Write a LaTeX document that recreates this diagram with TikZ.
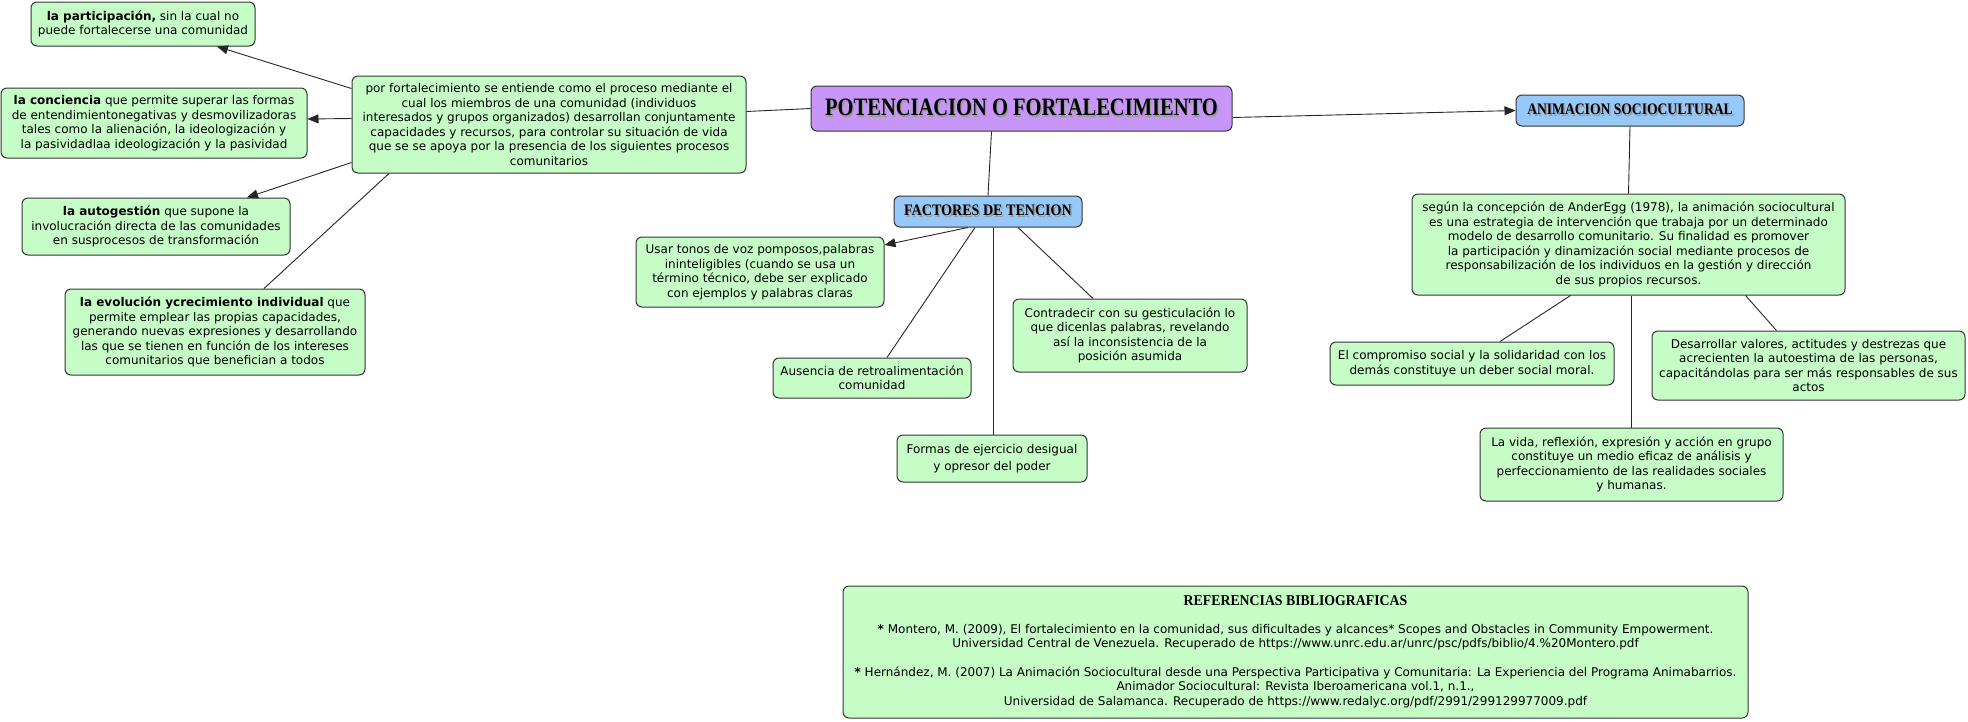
\documentclass[tikz,border=0pt]{standalone}
\usepackage{fontspec}
\setmainfont{DejaVu Sans}
\newfontfamily\titfont{Liberation Serif}
\usetikzlibrary{arrows.meta}
\definecolor{verde}{RGB}{198,252,198}
\definecolor{lila}{RGB}{200,150,248}
\definecolor{celeste}{RGB}{150,200,250}
\newcommand\sombra[1]{\makebox[0pt][l]{\kern1.5pt\raisebox{-1.5pt}{\color{black!40}#1}}#1}

\begin{document}
\begin{tikzpicture}[x=1pt,y=-1pt,
   concepto/.style={draw=black!80,line width=1pt,fill=verde,rounded corners=6pt,align=center,inner sep=2pt,
      font=\fontsize{12}{14.5}\selectfont},
   titulo/.style={draw=black!80,line width=1pt,fill=lila,rounded corners=6pt,inner sep=2pt},
   encabezado/.style={draw=black!80,line width=1pt,fill=celeste,rounded corners=6pt,inner sep=2pt},
   pfeil/.style={-{Triangle[length=11pt,width=9pt]}},
   linea/.style={draw=black!85,line width=0.9pt}]
   \useasboundingbox (0,0) rectangle (1968,721);
   % centro
   \node[titulo,minimum width=421pt,minimum height=45pt] (potenc) at (1021.5,108.5)
      {\titfont\bfseries\fontsize{25}{25}\selectfont\scalebox{0.82}[1]{\sombra{POTENCIACION O FORTALECIMIENTO}}};
   \node[encabezado,minimum width=228pt,minimum height=31pt] (anim) at (1630,110.5)
      {\titfont\bfseries\fontsize{16}{16}\selectfont\scalebox{0.85}[1]{\sombra{ANIMACION SOCIOCULTURAL}}};
   \node[encabezado,minimum width=188pt,minimum height=31pt] (factores) at (988,211.5)
      {\titfont\bfseries\fontsize{16}{16}\selectfont\scalebox{0.88}[1]{\sombra{FACTORES DE TENCION}}};
   % fortalecimiento
   \node[concepto,minimum width=394pt,minimum height=97pt] (fort) at (549,124.5)
      {por fortalecimiento se entiende como el proceso mediante el\\cual los miembros de una comunidad (individuos\\interesados y grupos organizados) desarrollan conjuntamente\\capacidades y recursos, para controlar su situación de vida\\que se se apoya por la presencia de los siguientes procesos\\comunitarios};
   \node[concepto,minimum width=224pt,minimum height=44pt] (part) at (143,24)
      {\textbf{la participación,} sin la cual no\\puede fortalecerse una comunidad};
   \node[concepto,minimum width=306pt,minimum height=70pt] (conc) at (154,123)
      {\textbf{la conciencia} que permite superar las formas\\de entendimientonegativas y desmovilizadoras\\tales como la alienación, la ideologización y\\la pasividadlaa ideologización y la pasividad};
   \node[concepto,minimum width=268pt,minimum height=57pt] (autog) at (156,226.5)
      {\textbf{la autogestión} que supone la\\involucración directa de las comunidades\\en susprocesos de transformación};
   \node[concepto,minimum width=300pt,minimum height=86pt] (evol) at (215,332)
      {\textbf{la evolución ycrecimiento individual} que\\permite emplear las propias capacidades,\\generando nuevas expresiones y desarrollando\\las que se tienen en función de los intereses\\comunitarios que benefician a todos};
   % factores
   \node[concepto,minimum width=248pt,minimum height=70pt] (usar) at (760,272)
      {Usar tonos de voz pomposos,palabras\\ininteligibles (cuando se usa un\\término técnico, debe ser explicado\\con ejemplos y palabras claras};
   \node[concepto,minimum width=234pt,minimum height=73pt] (contra) at (1130,335.5)
      {Contradecir con su gesticulación lo\\que dicenlas palabras, revelando\\así la inconsistencia de la\\posición asumida};
   \node[concepto,minimum width=198pt,minimum height=40pt] (ausencia) at (872,378)
      {Ausencia de retroalimentación\\comunidad};
   \node[concepto,minimum width=190pt,minimum height=47pt] (formas) at (992,458.5)
      {Formas de ejercicio desigual\\[3pt]y opresor del poder};
   % animacion
   \node[concepto,minimum width=433pt,minimum height=101pt] (segun) at (1628.5,244.5)
      {según la concepción de AnderEgg (1978), la animación sociocultural\\es una estrategia de intervención que trabaja por un determinado\\modelo de desarrollo comunitario. Su finalidad es promover\\la participación y dinamización social mediante procesos  de\\responsabilización de los individuos en la gestión y dirección\\de sus propios recursos.};
   \node[concepto,minimum width=284pt,minimum height=43pt] (compromiso) at (1472,363.5)
      {El compromiso social y la solidaridad con los\\demás constituye un deber social moral.};
   \node[concepto,minimum width=313pt,minimum height=69pt] (desarrollar) at (1808.5,365.5)
      {Desarrollar valores, actitudes y destrezas que\\acrecienten la autoestima de las personas,\\capacitándolas para ser más responsables de sus\\actos};
   \node[concepto,minimum width=303pt,minimum height=73pt] (vida) at (1631.5,464.5)
      {La vida, reflexión, expresión y acción en grupo\\constituye un medio eficaz de análisis y\\perfeccionamiento de las realidades sociales\\y humanas.};
   % referencias
   \node[concepto,minimum width=905pt,minimum height=132pt] (refs) at (1295.5,652)
      {{\titfont\bfseries\fontsize{15}{15}\selectfont\scalebox{0.92}[1]{REFERENCIAS BIBLIOGRAFICAS}}\\[13pt]
       \textbf{*} Montero, M. (2009), El fortalecimiento en la comunidad, sus dificultades y alcances* Scopes and Obstacles in Community Empowerment.\\
       Universidad Central de Venezuela. Recuperado de https://www.unrc.edu.ar/unrc/psc/pdfs/biblio/4.\%20Montero.pdf\\[14pt]
       \textbf{*} Hernández, M. (2007) La Animación Sociocultural desde una Perspectiva Participativa y Comunitaria: La Experiencia del Programa Animabarrios.\\
       Animador Sociocultural: Revista Iberoamericana vol.1, n.1.,\\
       Universidad de Salamanca. Recuperado de  https://www.redalyc.org/pdf/2991/299129977009.pdf};
   % conectores
   \draw[linea] (potenc.west) -- ([yshift=13pt]fort.east);
   \draw[linea,pfeil] ([yshift=-9pt]potenc.east) -- (anim.west);
   \draw[linea] ([xshift=-30pt]potenc.south) -- (factores.north);
   \draw[linea,pfeil] ([yshift=36pt]fort.west) -- ([xshift=74pt]part.south);
   \draw[linea,pfeil] ([yshift=6pt]fort.west) -- ([yshift=4pt]conc.east);
   \draw[linea,pfeil] ([yshift=-38pt]fort.west) -- ([xshift=91pt]autog.north);
   \draw[linea] ([xshift=-160pt]fort.south) -- ([xshift=49pt]evol.north);
   \draw[linea,pfeil] ([xshift=-20pt]factores.south) -- ([yshift=27pt]usar.east);
   \draw[linea] ([xshift=-13pt]factores.south) -- ([xshift=15pt]ausencia.north);
   \draw[linea] ([xshift=5pt]factores.south) -- ([xshift=1pt]formas.north);
   \draw[linea] ([xshift=30pt]factores.south) -- ([xshift=-37pt]contra.north);
   \draw[linea] (anim.south) -- (segun.north);
   \draw[linea] ([xshift=-58pt]segun.south) -- ([xshift=28pt]compromiso.north);
   \draw[linea] ([xshift=3pt]segun.south) -- (vida.north);
   \draw[linea] ([xshift=117pt]segun.south) -- ([xshift=-32pt]desarrollar.north);
\end{tikzpicture}
\end{document}
